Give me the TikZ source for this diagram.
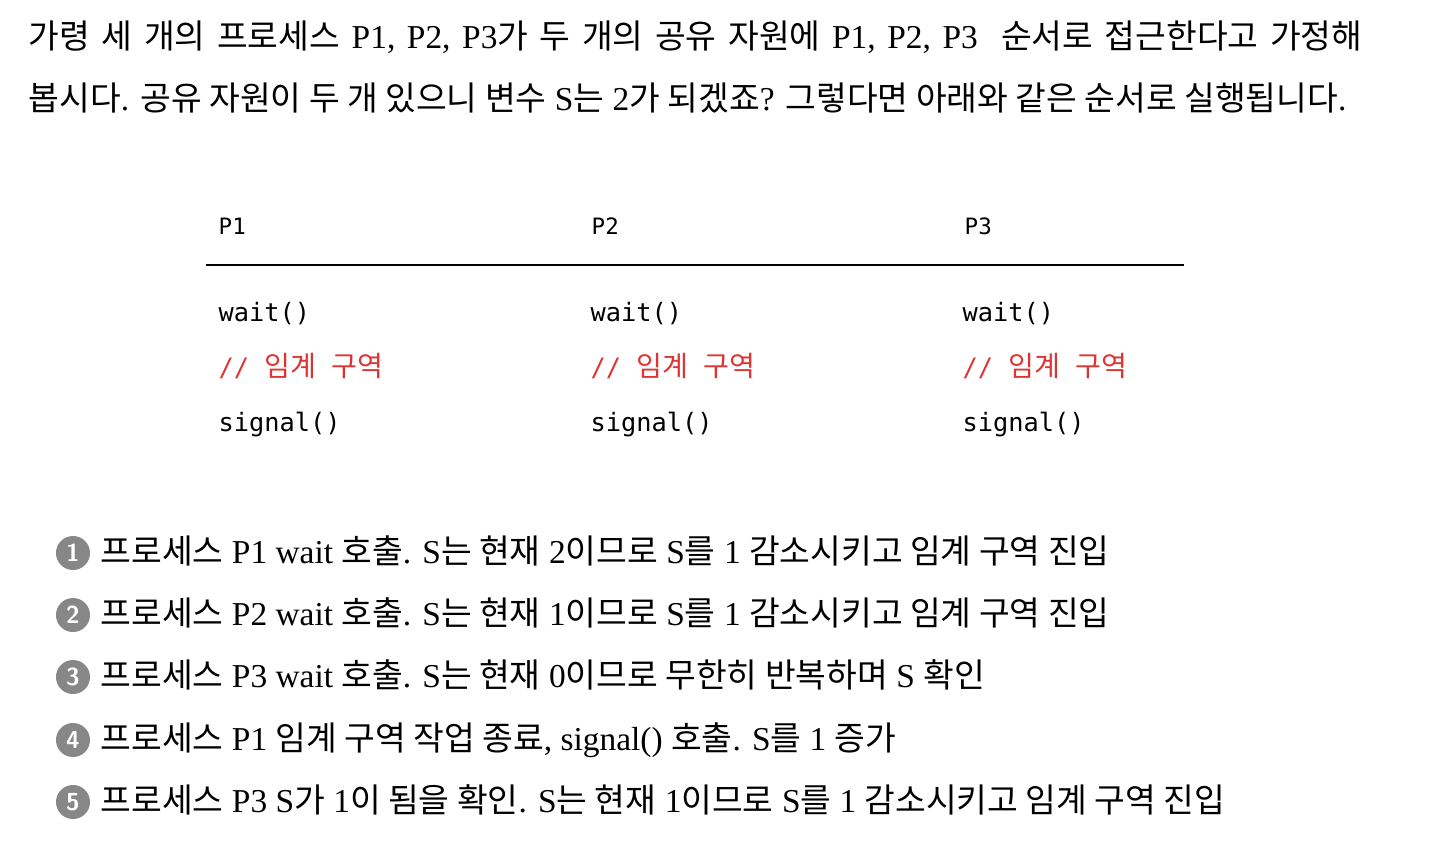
\documentclass[tikz,border=0pt]{standalone}
\usepackage{fontspec}
\setmainfont{Liberation Serif}
\setmonofont{DejaVu Sans Mono}
\newfontfamily\kr{Noto Sans CJK KR}
\newfontfamily\krmono{Noto Sans CJK KR}
\usetikzlibrary{positioning}
\definecolor{codered}{RGB}{222,52,52}
\definecolor{numgray}{RGB}{135,135,135}

\begin{document}
\begin{tikzpicture}[x=0.01cm,y=-0.01cm,
    para/.style={anchor=base west,inner sep=0pt,font=\fontsize{9.5}{11}\selectfont},
    head/.style={anchor=base west,inner sep=0pt,font=\ttfamily\fontsize{6.4}{8}\selectfont},
    code/.style={anchor=base west,inner sep=0pt,font=\ttfamily\fontsize{7.2}{9}\selectfont},
    cmt/.style={code,text=codered},
    num/.style={circle,fill=numgray,text=white,inner sep=0pt,minimum size=0.34cm,
        font=\sffamily\bfseries\fontsize{7}{8}\selectfont}]

    \useasboundingbox (0,0) rectangle (1438,844);

    % the texts
    \node[para] (l1) at (28,48) {\spaceskip=3.3pt\relax{\kr 가령 세 개의 프로세스} P1, P2, P3{\kr 가 두 개의 공유 자원에} P1, P2, P3\ \ {\kr 순서로 접근한다고 가정해}};
    \node[para] (l2) at (28,110) {{\kr 봅시다}. {\kr 공유 자원이 두 개 있으니 변수} S{\kr 는} 2{\kr 가 되겠죠}? {\kr 그렇다면 아래와 같은 순서로 실행됩니다}.};

    % the table
    \node[head] (h1) at (218,234) {P1};
    \node[head] (h2) at (591,234) {P2};
    \node[head] (h3) at (964,234) {P3};
    \coordinate (ruleL) at (206,265);
    \coordinate (ruleR) at (1184,265);
    \draw[line width=0.75pt] (ruleL) -- (ruleR);

    \node[code] (w1) at (218,321) {wait()};
    \node[code] (w2) at (590,321) {wait()};
    \node[code] (w3) at (962,321) {wait()};
    \node[cmt] (c1) at (218,376) {//~{\krmono\fontsize{8}{9}\selectfont 임계}~{\krmono\fontsize{8}{9}\selectfont 구역}};
    \node[cmt] (c2) at (590,376) {//~{\krmono\fontsize{8}{9}\selectfont 임계}~{\krmono\fontsize{8}{9}\selectfont 구역}};
    \node[cmt] (c3) at (962,376) {//~{\krmono\fontsize{8}{9}\selectfont 임계}~{\krmono\fontsize{8}{9}\selectfont 구역}};
    \node[code] (s1) at (218,431) {signal()};
    \node[code] (s2) at (590,431) {signal()};
    \node[code] (s3) at (962,431) {signal()};

    % the steps
    \node[num] (n1) at (73,553) {1};
    \node[num] (n2) at (73,615) {2};
    \node[num] (n3) at (73,677) {3};
    \node[num] (n4) at (73,740) {4};
    \node[num] (n5) at (73,802) {5};
    \node[para] (t1) at (100,563) {{\kr 프로세스} P1 wait {\kr 호출}. S{\kr 는 현재} 2{\kr 이므로} S{\kr 를} 1 {\kr 감소시키고 임계 구역 진입}};
    \node[para] (t2) at (100,625) {{\kr 프로세스} P2 wait {\kr 호출}. S{\kr 는 현재} 1{\kr 이므로} S{\kr 를} 1 {\kr 감소시키고 임계 구역 진입}};
    \node[para] (t3) at (100,687) {{\kr 프로세스} P3 wait {\kr 호출}. S{\kr 는 현재} 0{\kr 이므로 무한히 반복하며} S {\kr 확인}};
    \node[para] (t4) at (100,750) {{\kr 프로세스} P1 {\kr 임계 구역 작업 종료}, signal() {\kr 호출}. S{\kr 를} 1 {\kr 증가}};
    \node[para] (t5) at (100,812) {{\kr 프로세스} P3 S{\kr 가} 1{\kr 이 됨을 확인}. S{\kr 는 현재} 1{\kr 이므로} S{\kr 를} 1 {\kr 감소시키고 임계 구역 진입}};

\end{tikzpicture}
\end{document}
